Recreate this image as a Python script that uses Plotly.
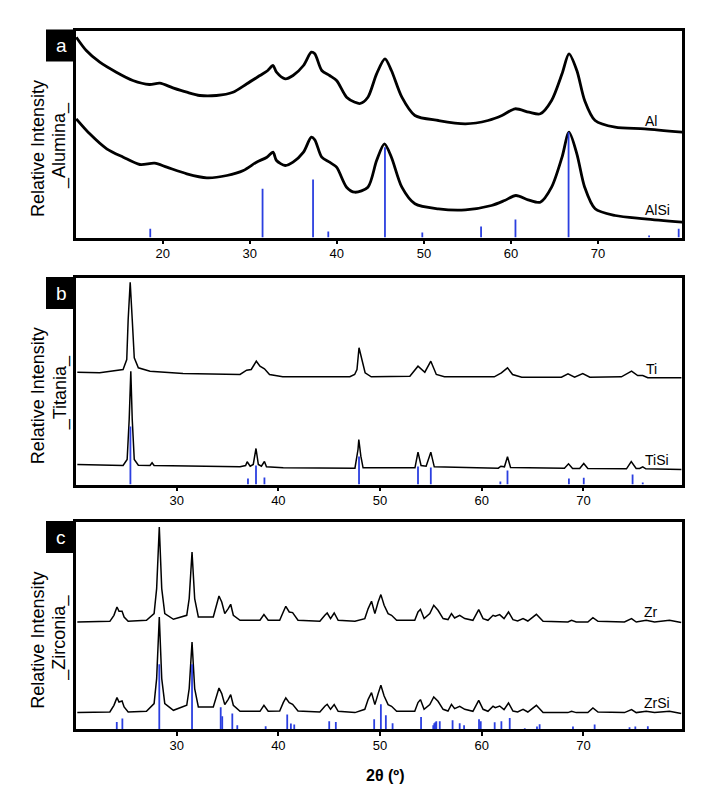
import plotly.graph_objects as go

# ---------------- data (2θ in degrees, intensity in arbitrary units) ----------------
# Panel a: Alumina
AL_X = [10.07, 11.22, 12.77, 14.67, 16.57, 18.47, 19.67, 21.17, 22.77, 24.27,
        26.17, 28.07, 29.67, 31.17, 32.07, 32.67, 33.07, 34.07, 34.97, 36.17,
        37.07, 37.47, 38.27, 39.17, 39.97, 41.12, 42.07, 42.67, 43.57, 44.57,
        45.53, 46.27, 47.47, 48.97, 51.67, 54.77, 57.37, 58.97, 60.47, 62.07,
        63.37, 64.67, 65.87, 66.67, 67.57, 68.47, 69.67, 71.97, 75.37, 79.67]
AL_Y = [200.3, 187, 175.3, 165.3, 157, 153, 154.3, 149.7, 145.3, 142,
        142, 145.3, 153.7, 162, 167, 172, 165.3, 158.7, 162, 172,
        185.3, 183.7, 167, 162, 157, 140.3, 135.3, 134, 140.3, 163.7,
        178.7, 167, 140.3, 122, 117, 113.7, 117, 122, 128.7, 125.3,
        123.7, 137, 163.7, 183.7, 167, 137, 117, 110.3, 108.7, 105.3]
ALSI_X = [10.07, 11.62, 13.57, 15.47, 17.37, 19.07, 20.47, 22.77, 25.07, 27.37,
          29.27, 30.77, 31.97, 32.67, 33.07, 34.07, 34.97, 36.17, 37.07, 37.47,
          38.27, 39.17, 39.97, 41.12, 42.07, 43.57, 44.57, 45.47, 46.27, 47.47,
          48.97, 51.67, 54.77, 57.77, 59.27, 60.57, 61.97, 63.37, 64.67, 65.87,
          66.67, 67.57, 68.47, 69.67, 71.97, 75.37, 79.67]
ALSI_Y = [118.7, 103.7, 88.7, 80.3, 73, 74.3, 70.3, 63.7, 59.7, 62,
          67, 75.3, 80.3, 85.3, 77, 72, 75.3, 85.3, 100.3, 97.7,
          80.3, 75.3, 70.3, 50.3, 45.3, 50.3, 77, 93.7, 80.3, 50.3,
          33.7, 28.7, 27.7, 32, 37, 42, 37.7, 35.3, 50.3, 80.3,
          105.3, 83.7, 50.3, 28.7, 22, 18.7, 15.3]
AL_REF_X = [18.57, 31.47, 37.27, 39.02, 45.53, 49.82, 56.57, 60.52, 66.62, 75.87, 79.27]
AL_REF_Y = [8.7, 48.7, 58, 6, 90.3, 5, 11, 18, 105.3, 2, 8.7]

# Panel b: Titania
TI_X = [20.23, 22.43, 24.73, 25.09, 25.23, 25.43, 25.63, 25.83, 26.23, 27.38,
        30.63, 36.23, 36.88, 37.33, 37.83, 38.19, 38.63, 39.13, 40.43, 47.03,
        47.5, 47.73, 47.93, 48.18, 48.53, 49.13, 52.93, 53.73, 54.4, 54.99,
        55.53, 56.33, 61.23, 61.93, 62.53, 63.03, 63.93, 67.83, 68.48, 69.13,
        69.93, 70.63, 73.73, 74.73, 75.33, 75.83, 76.33, 79.63]
TI_Y = [112.3, 111.7, 115, 125, 165, 202.3, 165, 126.7, 116.7, 113.3,
        111, 110, 114.3, 115, 123.3, 118.3, 115.7, 110, 107.7, 107.7,
        110, 115, 136.7, 125, 111.7, 107.7, 108.3, 118.3, 112.3, 123.3,
        110, 107.7, 107.7, 111.7, 116.7, 110, 107.3, 107.3, 110.7, 107.3,
        111, 107.3, 107.7, 113.3, 109, 109, 106.7, 106.7]
TISI_X = [20.23, 24.73, 25.13, 25.33, 25.49, 25.63, 25.83, 26.23, 27.38, 27.58,
          27.78, 36.23, 36.78, 36.93, 37.23, 37.53, 37.8, 38.03, 38.33, 38.63,
          38.83, 40.48, 47.53, 47.83, 47.91, 48.11, 48.33, 53.43, 53.73, 54.03,
          54.53, 54.99, 55.33, 61.63, 61.88, 62.23, 62.53, 62.83, 68.13, 68.53,
          68.93, 69.63, 70.03, 70.43, 74.23, 74.7, 75.18, 75.53, 75.83, 76.13,
          79.63]
TISI_Y = [20, 19, 25, 65, 113.3, 65, 25, 19.3, 19, 21.7,
          19, 17.7, 19, 22.7, 18.3, 20, 36, 20, 18.3, 23,
          17.7, 16.7, 16.3, 35, 45, 28.3, 16.7, 16.7, 32.3, 19,
          18.3, 32.3, 17.7, 16.3, 18.3, 17.7, 27.7, 17, 16.3, 20.7,
          16, 16, 21, 16, 15.7, 23, 16, 16, 17.7, 15.7,
          15]
TI_REF_X = [25.45, 37.01, 37.8, 38.63, 47.93, 53.73, 54.99, 61.83, 62.53, 68.57, 70.03, 74.83, 75.83]
TI_REF_Y = [58, 6, 19, 7, 28, 18, 17, 3, 14, 6, 6.7, 10, 2]

# Panel c: Zirconia (both patterns read on the same 2θ grid)
ZR_X = [20.23, 23.43, 23.83, 24.13, 24.33, 24.63, 24.83, 25.23, 27.03, 27.78,
        28.03, 28.29, 28.53, 28.83, 29.68, 30.99, 31.23, 31.51, 31.77, 32.13,
        33.6, 33.93, 34.16, 34.43, 34.73, 35.07, 35.31, 35.57, 36.23, 38.19,
        38.58, 39.0, 40.13, 40.48, 40.73, 41.07, 41.4, 41.93, 44.08, 44.57,
        44.8, 45.13, 45.49, 45.88, 47.53, 48.5, 48.83, 49.16, 49.49, 49.81,
        50.08, 50.4, 50.79, 51.13, 51.63, 53.41, 53.73, 53.97, 54.33, 54.89,
        55.28, 55.7, 56.2, 56.68, 57.02, 57.33, 57.83, 58.33, 59.13, 59.7,
        60.13, 60.61, 61.11, 61.33, 61.76, 62.19, 62.63, 63.07, 63.53, 64.06,
        64.53, 65.37, 66.03, 68.47, 68.83, 69.29, 70.43, 70.93, 71.43, 74.03,
        74.73, 75.19, 76.17, 76.99, 78.46, 79.61]
ZR_Y = [107.3, 108, 114, 122.3, 118, 118, 112.3, 108, 109, 115.7,
        140.7, 202.3, 140.7, 115.7, 110, 114, 130.7, 177.3, 130.7, 112.3,
        112.3, 124, 133.3, 127.3, 115.7, 120.7, 125, 114, 109, 109,
        114.7, 109, 109, 117.3, 123, 117.3, 116.7, 109, 108, 114,
        116.3, 110.7, 116.3, 109, 108, 110.7, 120.7, 128, 115.7, 127.3,
        134.7, 124, 115.7, 114, 109, 109, 117.3, 120, 110.7, 115.7,
        124, 119, 110.7, 109.7, 115.7, 111.3, 114, 110.7, 109, 119.7,
        110.7, 109, 114, 113, 114.7, 110.7, 117.3, 109.7, 108.3, 110.7,
        108.3, 115, 108, 107.3, 109, 107.3, 107.3, 111.7, 108, 107.3,
        110.7, 107.3, 109, 107.3, 109, 106.7]
ZRSI_Y = [16.7, 17.3, 24, 31.7, 27.3, 28.3, 22.3, 17.3, 18, 25.7,
          50.7, 112.3, 50.7, 25.7, 19, 24, 40.7, 87.3, 40.7, 22.3,
          22.3, 34, 41.3, 35.7, 24.7, 30, 34.7, 24, 18, 18,
          24, 18, 18.3, 26.7, 31.3, 26.7, 25, 18.3, 17.3, 23,
          25, 20, 24.7, 18, 16.7, 20, 30, 36.7, 24.7, 35.7,
          44, 33.3, 24.7, 23, 18, 18, 26.7, 29.7, 20, 24.7,
          32.3, 28, 20, 18.3, 25, 20.7, 23, 20, 18, 29,
          20, 18, 23, 21.7, 23.3, 19.7, 26.3, 18.3, 17.3, 20,
          17.3, 24, 16.7, 16.7, 18, 16.7, 16.7, 21.3, 17.3, 16.7,
          19.7, 16.7, 18, 16.7, 18, 15.7]
ZR_REF_X = [24.11, 24.66, 28.29, 31.51, 34.33, 34.48, 35.47, 35.96, 38.75, 40.87,
            41.23, 41.56, 45.0, 45.65, 49.42, 50.08, 50.57, 51.23, 54.03, 55.23,
            55.33, 55.43, 55.53, 55.87, 57.13, 57.83, 58.26, 59.73, 59.9, 61.27,
            61.93, 62.75, 64.23, 65.43, 65.69, 68.97, 71.1, 74.53, 75.1, 76.33]
ZR_REF_Y = [7.3, 10.7, 65, 65, 22, 13, 15.7, 4, 3, 14.7,
            5.7, 4.7, 8, 7.3, 10, 25, 14, 6, 12.3, 4,
            6, 7, 8, 8, 9, 6, 4, 10, 8, 7,
            8, 11.3, 1, 2.7, 5, 2.7, 4.7, 2, 2.7, 3]

PANEL_LETTERS = ["a", "b", "c"]
PANEL_NAMES = ["_Alumina_", "_Titania_", "_Zirconia_"]
SAMPLE_LABELS = [("Al", "AlSi"), ("Ti", "TiSi"), ("Zr", "ZrSi")]
TICKS_A = [20, 30, 40, 50, 60, 70]
TICKS_BC = [30, 40, 50, 60, 70]

# ---------------- layout helpers (pixel geometry of the page) ----------------
PAGE_W, PAGE_H = 715, 800
BODY = 8                      # default page margin around the plot div
W, H = PAGE_W - 2 * BODY, PAGE_H - 2 * BODY
FONT = "Liberation Sans, Arial, sans-serif"
BLUE = "#2b3fe0"


def xp(px):
    return (px - BODY) / W


def yp(py):
    return 1 - (py - BODY) / H


X_LEFT, X_RIGHT = 76, 682
PANELS = [  # top, bottom in page pixels; x range
    dict(top=30.5, bottom=237.5, xr=[10.04, 79.65], ticks=TICKS_A),
    dict(top=278, bottom=484.5, xr=[20.1, 79.69], ticks=TICKS_BC),
    dict(top=522, bottom=729.3, xr=[20.1, 79.69], ticks=TICKS_BC),
]


def sticks(xs, ys):
    sx, sy = [], []
    for x, y in zip(xs, ys):
        sx += [x, x, None]
        sy += [0, y, None]
    return sx, sy


fig = go.Figure()

series = [
    (AL_X, AL_Y, ALSI_X, ALSI_Y, AL_REF_X, AL_REF_Y, 2.8, "spline"),
    (TI_X, TI_Y, TISI_X, TISI_Y, TI_REF_X, TI_REF_Y, 1.5, "linear"),
    (ZR_X, ZR_Y, ZR_X, ZRSI_Y, ZR_REF_X, ZR_REF_Y, 1.5, "linear"),
]

for i, (x1, y1, x2, y2, rx, ry, lw, shape) in enumerate(series):
    suf = "" if i == 0 else str(i + 1)
    for xs, ys in ((x1, y1), (x2, y2)):
        fig.add_trace(go.Scatter(x=xs, y=ys, mode="lines", xaxis="x" + suf, yaxis="y" + suf,
                                 line=dict(color="black", width=lw, shape=shape, smoothing=0.8),
                                 showlegend=False, hoverinfo="skip"))
    sx, sy = sticks(rx, ry)
    fig.add_trace(go.Scatter(x=sx, y=sy, mode="lines", xaxis="x" + suf, yaxis="y" + suf,
                             line=dict(color=BLUE, width=1.8), showlegend=False, hoverinfo="skip"))

layout = dict(width=W, height=H, margin=dict(l=0, r=0, t=0, b=0),
              paper_bgcolor="white", plot_bgcolor="white", showlegend=False,
              font=dict(family=FONT, color="black"))
shapes, annotations = [], []
for i, p in enumerate(PANELS):
    suf = "" if i == 0 else str(i + 1)
    layout["xaxis" + suf] = dict(domain=[xp(X_LEFT), xp(X_RIGHT)], range=p["xr"], anchor="y" + suf,
                                 tickvals=p["ticks"], ticks="outside", ticklen=4, tickwidth=1.5,
                                 tickcolor="black", showline=True, linecolor="black", linewidth=2.5,
                                 mirror=True, showgrid=False, zeroline=False, ticklabelstandoff=-2,
                                 tickfont=dict(size=13, family=FONT, color="black"))
    layout["yaxis" + suf] = dict(domain=[yp(p["bottom"]), yp(p["top"])],
                                 range=[0, p["bottom"] - p["top"]], anchor="x" + suf,
                                 showticklabels=False, ticks="", showline=True, linecolor="black",
                                 linewidth=2.5, mirror=True, showgrid=False, zeroline=False)
    # panel letter box
    shapes.append(dict(type="rect", xref="paper", yref="paper", x0=xp(46), x1=xp(75.5),
                       y0=yp(p["top"] + 31), y1=yp(p["top"] - 1), fillcolor="black",
                       line=dict(width=0), layer="above"))
    annotations.append(dict(xref="paper", yref="paper", x=xp(61), y=yp(p["top"] + 15.5),
                            text=PANEL_LETTERS[i], showarrow=False,
                            font=dict(size=19, color="white", family=FONT),
                            xanchor="center", yanchor="middle"))
    # y titles
    mid = (p["top"] + p["bottom"]) / 2
    annotations.append(dict(xref="paper", yref="paper", x=xp(38), y=yp(mid + 15),
                            text="Relative Intensity", textangle=-90, showarrow=False,
                            font=dict(size=18, family=FONT), xanchor="center", yanchor="middle"))
    annotations.append(dict(xref="paper", yref="paper", x=xp(60), y=yp(mid + 12),
                            text=PANEL_NAMES[i], textangle=-90, showarrow=False,
                            font=dict(size=18, family=FONT), xanchor="center", yanchor="middle"))

# sample labels (page-pixel positions of text centres)
LABEL_POS = [((651, 121), (657, 210)), ((651, 369), (657, 460)), ((651, 612), (657, 703))]
for (l1, l2), (p1, p2) in zip(SAMPLE_LABELS, LABEL_POS):
    for t, (px, py) in ((l1, p1), (l2, p2)):
        annotations.append(dict(xref="paper", yref="paper", x=xp(px), y=yp(py), text=t,
                                showarrow=False, font=dict(size=14, family=FONT),
                                xanchor="center", yanchor="middle"))

annotations.append(dict(xref="paper", yref="paper", x=xp(385), y=yp(775), text="<b>2θ (º)</b>",
                        showarrow=False, font=dict(size=16, family=FONT),
                        xanchor="center", yanchor="middle"))

layout["shapes"] = shapes
layout["annotations"] = annotations
fig.update_layout(**layout)
fig.write_html("out.html")
